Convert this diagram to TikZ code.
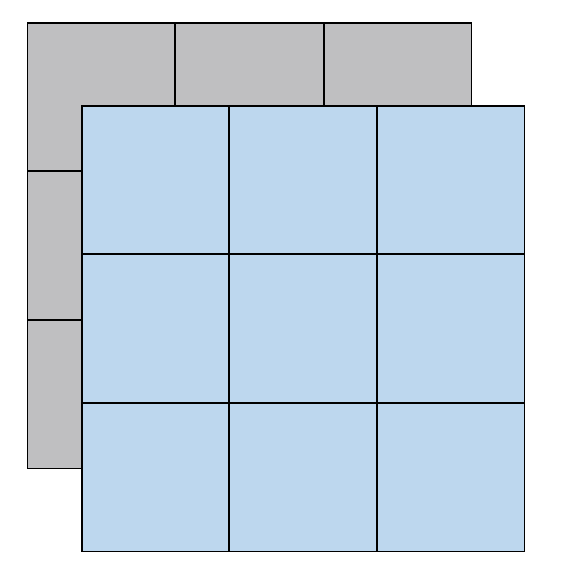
\documentclass[tikz,border=0pt]{standalone}
\definecolor{cellgray}{RGB}{191,191,193}
\definecolor{cellblue}{RGB}{189,215,238}
\tikzset{
  graycell/.style={draw=black, fill=cellgray, line width=1.2pt, minimum width=147.3pt, minimum height=147.7pt, inner sep=0pt, outer sep=0pt, anchor=north west},
  bluecell/.style={draw=black, fill=cellblue, line width=1.2pt, minimum width=146.7pt, minimum height=147.7pt, inner sep=0pt, outer sep=0pt, anchor=north west}
}
\begin{document}
\begin{tikzpicture}[x=1pt,y=-1pt]
\useasboundingbox (0,0) rectangle (568,576);
\foreach \i in {0,1,2}{
  \foreach \j in {0,1,2}{
    \node[graycell] (g\i\j) at ({27.5+148.3*\i},{23+148.7*\j}) {};
  }
}
\foreach \i in {0,1,2}{
  \foreach \j in {0,1,2}{
    \node[bluecell] (b\i\j) at ({82+147.7*\i},{106+148.7*\j}) {};
  }
}
\end{tikzpicture}
\end{document}
